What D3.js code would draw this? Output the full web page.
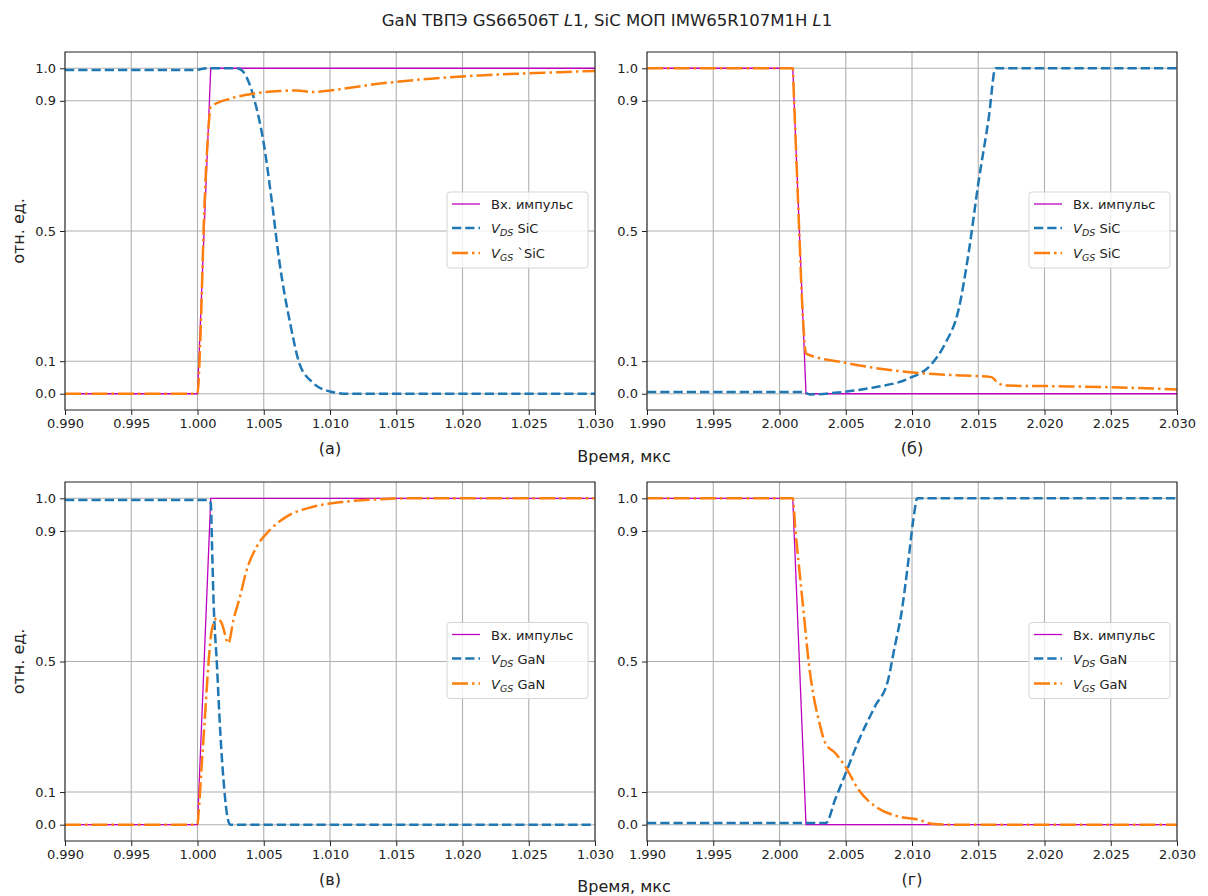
<!DOCTYPE html>
<html><head><meta charset="utf-8">
<script src="https://cdn.jsdelivr.net/npm/d3@7"></script>
<style>
body{margin:0;background:#fff;}
text{font-family:"DejaVu Sans",sans-serif;fill:#222;}
</style></head>
<body><svg id="c" width="1208" height="896"></svg>
<script>
// ---------- data ----------
const xTicksTop = [0.990,0.995,1.000,1.005,1.010,1.015,1.020,1.025,1.030];
const xTicksRight = [1.990,1.995,2.000,2.005,2.010,2.015,2.020,2.025,2.030];
const yTicks = [0.0,0.1,0.5,0.9,1.0];

// (a) SiC turn-on
const aPulse = [[0.990,0],[1.000,0],[1.001,1],[1.030,1]];
const aVds = [[0.990,0.995],[0.9998,0.995],[1.0008,1.0],[1.0029,1.0],[1.0033,0.995],[1.0037,0.973],[1.0043,0.902],[1.0050,0.769],
  [1.0056,0.594],[1.0062,0.400],[1.0070,0.215],[1.0077,0.092],[1.0087,0.034],[1.0100,0.007],[1.0113,0.0],[1.030,0.0]];
const aVgs = [[0.990,0],[1.000,0],[1.0002,0.15],[1.0005,0.55],[1.0008,0.80],[1.0010,0.881],[1.0025,0.907],[1.0042,0.922],
  [1.0062,0.930],[1.0075,0.932],[1.0087,0.927],[1.0100,0.932],[1.0138,0.953],[1.0176,0.968],[1.0213,0.978],[1.0274,0.988],[1.030,0.992]];

// (б) SiC turn-off
const bPulse = [[1.990,1],[2.001,1],[2.002,0],[2.030,0]];
const bVds = [[1.990,0.005],[2.0018,0.005],[2.0023,-0.002],[2.0047,0.005],[2.0072,0.020],[2.0097,0.046],[2.0115,0.092],
  [2.0125,0.154],[2.0135,0.256],[2.0143,0.44],[2.0150,0.645],[2.0158,0.85],[2.0163,1.0],[2.030,1.0]];
const bVgs = [[1.990,1],[2.0010,1],[2.0011,0.90],[2.00145,0.54],[2.0017,0.287],[2.0019,0.154],[2.0020,0.123],[2.0047,0.097],
  [2.0085,0.072],[2.0122,0.059],[2.0160,0.051],[2.0164,0.036],[2.0170,0.025],[2.0210,0.023],[2.025,0.020],[2.030,0.013]];

// (в) GaN turn-on
const cPulse = [[0.990,0],[1.000,0],[1.001,1],[1.030,1]];
const cVds = [[0.990,0.995],[1.0008,0.995],[1.0010,0.985],[1.0011,0.852],[1.0012,0.70],[1.00146,0.495],[1.00171,0.29],
  [1.00196,0.138],[1.00221,0.036],[1.00246,0.0],[1.030,0.0]];
const cVgs = [[0.990,0],[1.000,0],[1.00008,0.036],[1.00033,0.189],[1.00058,0.342],[1.00083,0.495],[1.00108,0.597],
  [1.00146,0.633],[1.00183,0.617],[1.00233,0.556],[1.00271,0.627],[1.00321,0.699],[1.00371,0.78],[1.00447,0.852],
  [1.00547,0.903],[1.00672,0.944],[1.00872,0.974],[1.01123,0.990],[1.01374,0.997],[1.016,1.0],[1.030,1.0]];

// (г) GaN turn-off
const dPulse = [[1.990,1],[2.001,1],[2.002,0],[2.030,0]];
const dVds = [[1.990,0.005],[2.0035,0.005],[2.0042,0.077],[2.0050,0.158],[2.0060,0.26],[2.0072,0.362],[2.0082,0.444],
  [2.0087,0.546],[2.0092,0.648],[2.0097,0.80],[2.0101,0.934],[2.0104,1.0],[2.030,1.0]];
const dVgs = [[1.990,1],[2.0010,1],[2.0012,0.903],[2.00145,0.80],[2.00183,0.648],[2.00221,0.495],[2.00258,0.393],
  [2.00296,0.321],[2.00346,0.25],[2.00422,0.219],[2.00497,0.178],[2.00597,0.107],[2.00723,0.056],[2.00898,0.025],
  [2.01049,0.015],[2.01149,0.003],[2.013,0.0],[2.030,0.0]];

const panelLabels = ["(а)","(б)","(в)","(г)"];
const pulseLabel = "Вх. импульс";
// ---------- drawing ----------
const svg = d3.select("#c");
const C_PULSE="#bf00bf", C_VDS="#1f77b4", C_VGS="#ff7f0e";

// title
const t = svg.append("text").attr("x",607).attr("y",26).attr("text-anchor","middle").style("font-size","16.5px");
t.append("tspan").text("GaN ТВПЭ GS66506T ");
t.append("tspan").style("font-style","italic").text("L");
t.append("tspan").text("1, SiC МОП IMW65R107M1H ");
t.append("tspan").style("font-style","italic").text("L");
t.append("tspan").text("1");

const panels = [
 {left:65, right:595, top:52, bottom:410, dom:[0.990,1.030], ticks:xTicksTop, pulse:aPulse, vds:aVds, vgs:aVgs, lab:panelLabels[0], dev:"SiC", gsSuffix:" `SiC", ylab:true},
 {left:647, right:1177, top:52, bottom:410, dom:[1.990,2.030], ticks:xTicksRight, pulse:bPulse, vds:bVds, vgs:bVgs, lab:panelLabels[1], dev:"SiC", gsSuffix:" SiC", ylab:false},
 {left:65, right:595, top:482, bottom:841, dom:[0.990,1.030], ticks:xTicksTop, pulse:cPulse, vds:cVds, vgs:cVgs, lab:panelLabels[2], dev:"GaN", gsSuffix:" GaN", ylab:true},
 {left:647, right:1177, top:482, bottom:841, dom:[1.990,2.030], ticks:xTicksRight, pulse:dPulse, vds:dVds, vgs:dVgs, lab:panelLabels[3], dev:"GaN", gsSuffix:" GaN", ylab:false},
];

panels.forEach((p,i)=>{
  const x = d3.scaleLinear().domain(p.dom).range([p.left,p.right]);
  const y = d3.scaleLinear().domain([-0.05,1.05]).range([p.bottom,p.top]);
  const g = svg.append("g");
  const clipId = "clip"+i;
  svg.append("clipPath").attr("id",clipId).append("rect").attr("x",p.left).attr("y",p.top).attr("width",p.right-p.left).attr("height",p.bottom-p.top);
  // grid
  g.selectAll(".gx").data(p.ticks).enter().append("line").attr("x1",d=>x(d)).attr("x2",d=>x(d)).attr("y1",p.top).attr("y2",p.bottom).attr("stroke","#b0b0b0").attr("stroke-width",1.1);
  g.selectAll(".gy").data(yTicks).enter().append("line").attr("y1",d=>y(d)).attr("y2",d=>y(d)).attr("x1",p.left).attr("x2",p.right).attr("stroke","#b0b0b0").attr("stroke-width",1.1);
  // lines
  const line = d3.line().x(d=>x(d[0])).y(d=>y(d[1]));
  const sline = d3.line().x(d=>x(d[0])).y(d=>y(d[1])).curve(d3.curveMonotoneX);
  const lg = g.append("g").attr("clip-path",`url(#${clipId})`);
  lg.append("path").attr("d",line(p.pulse)).attr("fill","none").attr("stroke",C_PULSE).attr("stroke-width",1.3);
  lg.append("path").attr("d",sline(p.vds)).attr("fill","none").attr("stroke",C_VDS).attr("stroke-width",2.5).attr("stroke-dasharray","9.25,4");
  lg.append("path").attr("d",sline(p.vgs)).attr("fill","none").attr("stroke",C_VGS).attr("stroke-width",2.5).attr("stroke-dasharray","16,4,2.5,4");
  // axes
  const xa = d3.axisBottom(x).tickValues(p.ticks).tickFormat(d3.format(".3f")).tickSize(5).tickPadding(4);
  const ya = d3.axisLeft(y).tickValues(yTicks).tickFormat(d3.format(".1f")).tickSize(5).tickPadding(4);
  const gx = svg.append("g").attr("transform",`translate(0,${p.bottom})`).call(xa);
  const gy = svg.append("g").attr("transform",`translate(${p.left},0)`).call(ya);
  [gx,gy].forEach(a=>{a.select(".domain").remove(); a.selectAll("line").attr("stroke","#222"); a.selectAll("text").style("font-size","13px").style("font-family","DejaVu Sans").attr("fill","#222");});
  svg.append("rect").attr("x",p.left).attr("y",p.top).attr("width",p.right-p.left).attr("height",p.bottom-p.top).attr("fill","none").attr("stroke","#222").attr("stroke-width",1);
  // panel label
  svg.append("text").attr("x",(p.left+p.right)/2).attr("y",p.bottom+44).attr("text-anchor","middle").style("font-size","16px").text(p.lab);
  if(p.ylab){
    const cy=(p.top+p.bottom)/2;
    svg.append("text").attr("transform",`translate(24,${cy}) rotate(-90)`).attr("text-anchor","middle").style("font-size","16px").text("отн. ед.");
  }
  // legend
  const lx = p.right-148, ly=(p.top+p.bottom)/2-39;
  const L = svg.append("g");
  L.append("rect").attr("x",lx).attr("y",ly).attr("width",141).attr("height",76).attr("rx",3).attr("fill","#fff").attr("fill-opacity",0.8).attr("stroke","#d5d5d5");
  const rows=[ly+12,ly+36,ly+61];
  const items=[{c:C_PULSE,w:1.3,da:null},{c:C_VDS,w:2.5,da:"9.25,4"},{c:C_VGS,w:2.5,da:"16,4,2.5,4"}];
  items.forEach((it,k)=>{
    const ln=L.append("line").attr("x1",lx+5).attr("x2",lx+33).attr("y1",rows[k]).attr("y2",rows[k]).attr("stroke",it.c).attr("stroke-width",it.w);
    if(it.da) ln.attr("stroke-dasharray",it.da);
  });
  L.append("text").attr("x",lx+44).attr("y",rows[0]+5).style("font-size","13px").text(pulseLabel);
  const mk=(k,sub,suffix)=>{
    const tx=L.append("text").attr("x",lx+44).attr("y",rows[k]+5).style("font-size","13px");
    tx.append("tspan").style("font-style","italic").text("V");
    tx.append("tspan").style("font-style","italic").style("font-size","9.5px").attr("dy",3).text(sub);
    tx.append("tspan").attr("dy",-3).text(suffix);
  };
  mk(1,"DS"," "+p.dev);
  mk(2,"GS",p.gsSuffix);
});
// shared x labels
svg.append("text").attr("x",624).attr("y",462).attr("text-anchor","middle").style("font-size","16px").text("Время, мкс");
svg.append("text").attr("x",624).attr("y",892).attr("text-anchor","middle").style("font-size","16px").text("Время, мкс");
</script></body></html>
